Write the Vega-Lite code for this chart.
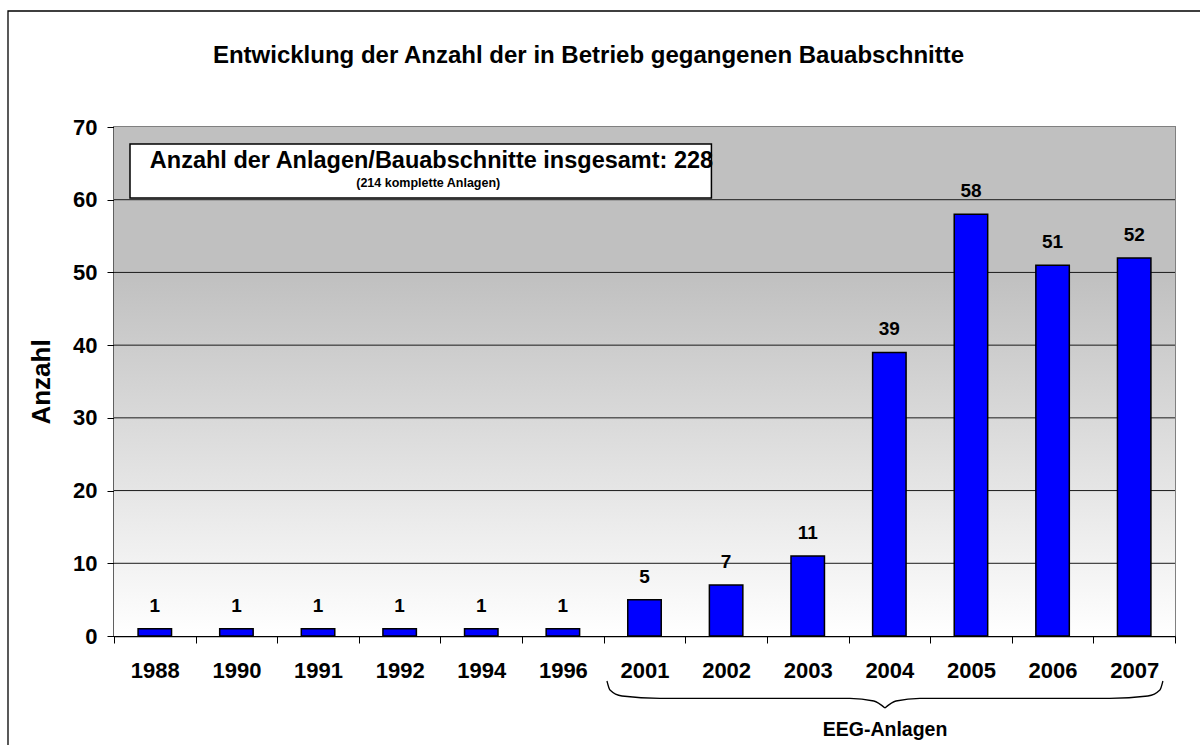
{
  "$schema": "https://vega.github.io/schema/vega-lite/v6.json",
  "width": 1061,
  "height": 509,
  "autosize": {"type": "none"},
  "padding": {"left": 114, "top": 127, "right": 25, "bottom": 109},
  "background": "white",
  "config": {"font": "Liberation Sans"},
  "view": {"stroke": "#808080", "strokeWidth": 2},
  "title": {
    "text": "Entwicklung der Anzahl der in Betrieb gegangenen Bauabschnitte",
    "font": "Liberation Sans",
    "fontSize": 24,
    "fontWeight": "bold",
    "color": "black",
    "anchor": "middle",
    "frame": "group",
    "baseline": "alphabetic",
    "dx": -56,
    "offset": -77
  },
  "layer": [
    {
      "layer": [
        {
          "data": {"values": [{"u1": 0, "u2": 13, "v1": 0, "v2": 70}]},
          "mark": {"type": "rect", "strokeWidth": 0,
            "fill": {"gradient": "linear", "x1": 0, "y1": 0, "x2": 0, "y2": 1,
              "stops": [{"offset": 0, "color": "#C0C0C0"}, {"offset": 0.29, "color": "#C0C0C0"}, {"offset": 1, "color": "#FFFFFF"}]}},
          "encoding": {
            "x": {"field": "u1", "type": "quantitative", "scale": {"domain": [0, 13], "nice": false, "zero": false}, "axis": null},
            "x2": {"field": "u2"},
            "y": {"field": "v2", "type": "quantitative", "scale": {"domain": [0, 70], "nice": false}, "axis": null},
            "y2": {"field": "v1"}
          }
        },
        {
          "data": {"values": [{"g": 10}, {"g": 20}, {"g": 30}, {"g": 40}, {"g": 50}, {"g": 60}]},
          "mark": {"type": "rule", "stroke": "#1a1a1a", "strokeWidth": 1},
          "encoding": {
            "y": {"field": "g", "type": "quantitative", "scale": {"domain": [0, 70], "nice": false}, "axis": null}
          }
        }
      ]
    },
    {
      "data": {"values": [
        {"year": "1988", "n": 1}, {"year": "1990", "n": 1}, {"year": "1991", "n": 1},
        {"year": "1992", "n": 1}, {"year": "1994", "n": 1}, {"year": "1996", "n": 1},
        {"year": "2001", "n": 5}, {"year": "2002", "n": 7}, {"year": "2003", "n": 11},
        {"year": "2004", "n": 39}, {"year": "2005", "n": 58}, {"year": "2006", "n": 51},
        {"year": "2007", "n": 52}
      ]},
      "encoding": {
        "x": {"field": "year", "type": "nominal", "sort": null,
          "scale": {"paddingInner": 0, "paddingOuter": 0},
          "axis": {"title": null, "labelAngle": 0, "labelFontSize": 22, "labelFontWeight": "bold",
            "labelColor": "black", "tickBand": "extent", "tickSize": 7, "tickColor": "black",
            "tickWidth": 1, "domainColor": "black", "domainWidth": 1.5, "labelPadding": 17, "grid": false}},
        "y": {"field": "n", "type": "quantitative",
          "scale": {"domain": [0, 70], "nice": false},
          "axis": {"title": "Anzahl", "titleFontSize": 26, "titleFontWeight": "bold", "titleColor": "black",
            "titlePadding": 18, "values": [0, 10, 20, 30, 40, 50, 60, 70],
            "labelFontSize": 22, "labelFontWeight": "bold", "labelColor": "black", "labelPadding": 10,
            "tickSize": 7, "tickColor": "black", "domainColor": "black", "domainWidth": 1.5,
            "grid": false}}
      },
      "layer": [
        {"mark": {"type": "bar", "width": {"band": 0.41}, "fill": "#0000FF", "stroke": "black", "strokeWidth": 1.5}},
        {"mark": {"type": "text", "dy": -17, "baseline": "alphabetic", "fontSize": 19, "fontWeight": "bold", "color": "black"},
          "encoding": {"text": {"field": "n", "type": "quantitative"}}}
      ]
    },
    {
      "layer": [
        {
          "data": {"values": [{"u1": -1.2988, "u2": 14, "v1": 85.95, "v2": -20}]},
          "mark": {"type": "rect", "fillOpacity": 0, "stroke": "black", "strokeWidth": 1.3},
          "encoding": {
            "x": {"field": "u1", "type": "quantitative", "scale": {"domain": [0, 13], "nice": false, "zero": false}, "axis": null},
            "x2": {"field": "u2"},
            "y": {"field": "v1", "type": "quantitative", "scale": {"domain": [0, 70], "nice": false}, "axis": null},
            "y2": {"field": "v2"}
          }
        },
        {
          "data": {"values": [{"u1": 0.196, "u2": 7.32, "v1": 67.67, "v2": 60.25}]},
          "mark": {"type": "rect", "fill": "white", "stroke": "black", "strokeWidth": 1.5},
          "encoding": {
            "x": {"field": "u1", "type": "quantitative", "scale": {"domain": [0, 13], "nice": false, "zero": false}, "axis": null},
            "x2": {"field": "u2"},
            "y": {"field": "v1", "type": "quantitative", "scale": {"domain": [0, 70], "nice": false}, "axis": null},
            "y2": {"field": "v2"}
          }
        },
        {
          "data": {"values": [{"u": 3.89, "v": 64.36, "t": "Anzahl der Anlagen/Bauabschnitte insgesamt: 228"}]},
          "mark": {"type": "text", "baseline": "alphabetic", "align": "center", "fontSize": 23.5, "fontWeight": "bold", "color": "black"},
          "encoding": {
            "x": {"field": "u", "type": "quantitative", "scale": {"domain": [0, 13], "nice": false, "zero": false}, "axis": null},
            "y": {"field": "v", "type": "quantitative", "scale": {"domain": [0, 70], "nice": false}, "axis": null},
            "text": {"field": "t"}
          }
        },
        {
          "data": {"values": [{"u": 3.85, "v": 61.75, "t": "(214 komplette Anlagen)"}]},
          "mark": {"type": "text", "baseline": "alphabetic", "align": "center", "fontSize": 12.5, "fontWeight": "bold", "color": "black"},
          "encoding": {
            "x": {"field": "u", "type": "quantitative", "scale": {"domain": [0, 13], "nice": false, "zero": false}, "axis": null},
            "y": {"field": "v", "type": "quantitative", "scale": {"domain": [0, 70], "nice": false}, "axis": null},
            "text": {"field": "t"}
          }
        },
        {
          "data": {"values": [
            {"u": 6.04, "v": -6.19, "side": "L"}, {"u": 6.077, "v": -7.43, "side": "L"},
            {"u": 6.224, "v": -8.25, "side": "L"}, {"u": 6.69, "v": -8.59, "side": "L"},
            {"u": 9.017, "v": -8.59, "side": "L"}, {"u": 9.31, "v": -8.94, "side": "L"},
            {"u": 9.446, "v": -9.9, "side": "L"},
            {"u": 9.446, "v": -9.9, "side": "R"}, {"u": 9.581, "v": -8.94, "side": "R"},
            {"u": 9.875, "v": -8.59, "side": "R"}, {"u": 12.203, "v": -8.59, "side": "R"},
            {"u": 12.668, "v": -8.25, "side": "R"}, {"u": 12.815, "v": -7.43, "side": "R"},
            {"u": 12.852, "v": -6.19, "side": "R"}
          ]},
          "mark": {"type": "line", "interpolate": "monotone", "stroke": "black", "strokeWidth": 1.3},
          "encoding": {
            "x": {"field": "u", "type": "quantitative", "scale": {"domain": [0, 13], "nice": false, "zero": false}, "axis": null},
            "y": {"field": "v", "type": "quantitative", "scale": {"domain": [0, 70], "nice": false}, "axis": null},
            "detail": {"field": "side"},
            "order": {"field": "u", "type": "quantitative"}
          }
        },
        {
          "data": {"values": [{"u": 9.447, "v": -13.75, "t": "EEG-Anlagen"}]},
          "mark": {"type": "text", "baseline": "alphabetic", "align": "center", "fontSize": 19.5, "fontWeight": "bold", "color": "black"},
          "encoding": {
            "x": {"field": "u", "type": "quantitative", "scale": {"domain": [0, 13], "nice": false, "zero": false}, "axis": null},
            "y": {"field": "v", "type": "quantitative", "scale": {"domain": [0, 70], "nice": false}, "axis": null},
            "text": {"field": "t"}
          }
        }
      ]
    }
  ],
  "resolve": {
    "scale": {"x": "independent", "y": "independent"},
    "axis": {"x": "independent", "y": "independent"}
  }
}
